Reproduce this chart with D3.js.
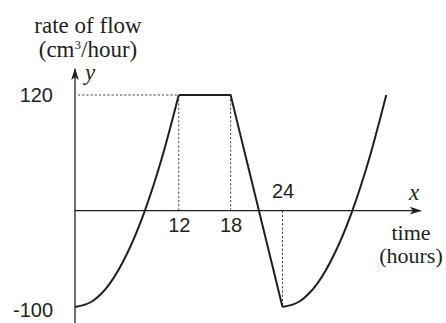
<!DOCTYPE html>
<html>
<head>
<meta charset="utf-8">
<script src="https://cdn.jsdelivr.net/npm/d3@7"></script>
<style>
  html, body { margin: 0; padding: 0; background: #fff; }
  svg { display: block; }
  .serif { font-family: "Liberation Serif", "Times New Roman", serif; fill: #231f20; }
  .tick text { font-family: "Liberation Sans", Arial, sans-serif; font-size: 20px; fill: #231f20; }
</style>
</head>
<body>
<svg id="chart" width="446" height="323"></svg>
<script>
// Values
const riseHours = [0, 2, 4, 6, 8, 10, 12];
const riseFlow = [-100, -94, -76, -45, -2, 53, 120];
const plateauHours = [12, 18, 24];
const plateauFlow = [120, 120, -100];
const refillHours = [24, 26, 28, 30, 32, 34, 36];
const refillFlow = [-100, -94, -76, -45, -2, 53, 120];

const bottomTicks = [12, 18];
const topTicks = [24];
const flowTicks = [120, -100];

const ink = "#231f20";
const svg = d3.select("#chart");

const x = d3.scaleLinear().domain([0, 24]).range([75, 282.5]);
const y = d3.scaleLinear().domain([-100, 120]).range([307, 95]);

const zip = (hs, fs) => hs.map((h, i) => ({ h, f: fs[i] }));

// arrow head for the axes
svg.append("defs").append("marker")
    .attr("id", "arrow")
    .attr("viewBox", "-12 -5 14 10")
    .attr("markerUnits", "userSpaceOnUse")
    .attr("markerWidth", 14)
    .attr("markerHeight", 10)
    .attr("refX", 0)
    .attr("refY", 0)
    .attr("orient", "auto")
    .append("path")
    .attr("d", "M1,0 L-11,-3.8 L-8,0 L-11,3.8 Z")
    .attr("fill", ink);

// dotted guides
const guides = svg.append("g")
    .attr("stroke", "#444")
    .attr("stroke-width", 1)
    .attr("stroke-dasharray", "2.2,2");

guides.append("line")
    .attr("x1", x(0) + 3).attr("x2", x(12))
    .attr("y1", y(120)).attr("y2", y(120));

guides.selectAll(".vup")
    .data(bottomTicks)
    .enter().append("line")
    .attr("x1", d => x(d)).attr("x2", d => x(d))
    .attr("y1", y(120)).attr("y2", y(0));

guides.selectAll(".vdown")
    .data(topTicks)
    .enter().append("line")
    .attr("x1", d => x(d)).attr("x2", d => x(d))
    .attr("y1", y(0)).attr("y2", y(-100));

// axis lines with arrows
svg.append("line")
    .attr("x1", x(0)).attr("x2", x(40))
    .attr("y1", y(0)).attr("y2", y(0))
    .attr("stroke", ink).attr("stroke-width", 1.3)
    .attr("marker-end", "url(#arrow)");

svg.append("line")
    .attr("x1", x(0)).attr("x2", x(0))
    .attr("y1", y(-118)).attr("y2", y(147))
    .attr("stroke", ink).attr("stroke-width", 1.3)
    .attr("marker-end", "url(#arrow)");

// tick labels
const fmt = d => String(d);

const gBottom = svg.append("g")
    .attr("transform", `translate(0,${y(0)})`)
    .call(d3.axisBottom(x).tickValues(bottomTicks).tickSize(0).tickPadding(7).tickFormat(fmt));
gBottom.select(".domain").remove();

const gTop = svg.append("g")
    .attr("transform", `translate(0,${y(0)})`)
    .call(d3.axisTop(x).tickValues(topTicks).tickSize(0).tickPadding(13).tickFormat(fmt));
gTop.select(".domain").remove();

const gLeft = svg.append("g")
    .attr("transform", `translate(${x(0)},0)`)
    .call(d3.axisLeft(y).tickValues(flowTicks).tickSize(0).tickPadding(22).tickFormat(fmt));
gLeft.select(".domain").remove();
gLeft.selectAll(".tick text").filter(d => d < 0).attr("dy", "0.45em");

// the flow curve
const smooth = d3.line().x(d => x(d.h)).y(d => y(d.f)).curve(d3.curveMonotoneX);
const straight = d3.line().x(d => x(d.h)).y(d => y(d.f));

const curve = svg.append("g")
    .attr("fill", "none")
    .attr("stroke", ink)
    .attr("stroke-width", 2)
    .attr("stroke-linejoin", "round");

curve.append("path").attr("d", smooth(zip(riseHours, riseFlow)));
curve.append("path").attr("d", straight(zip(plateauHours, plateauFlow)));
curve.append("path").attr("d", smooth(zip(refillHours, refillFlow)));

// titles
svg.append("text").attr("class", "serif")
    .attr("x", 88).attr("y", 32.5)
    .attr("text-anchor", "middle").attr("font-size", 23)
    .text("rate of flow");

const unit = svg.append("text").attr("class", "serif")
    .attr("x", 88).attr("y", 56.5)
    .attr("text-anchor", "middle").attr("font-size", 23);
unit.append("tspan").text("(cm");
unit.append("tspan").attr("font-size", 13).attr("dy", -8).text("3");
unit.append("tspan").attr("dy", 8).text("/hour)");

svg.append("text").attr("class", "serif")
    .attr("x", 85).attr("y", 80)
    .attr("font-size", 23).attr("font-style", "italic")
    .text("y");
svg.append("text").attr("class", "serif")
    .attr("x", 414).attr("y", 200)
    .attr("text-anchor", "middle").attr("font-size", 23).attr("font-style", "italic")
    .text("x");

svg.append("text").attr("class", "serif")
    .attr("x", 411).attr("y", 240)
    .attr("text-anchor", "middle").attr("font-size", 22)
    .text("time");
svg.append("text").attr("class", "serif")
    .attr("x", 411).attr("y", 263)
    .attr("text-anchor", "middle").attr("font-size", 22)
    .text("(hours)");
</script>
</body>
</html>
